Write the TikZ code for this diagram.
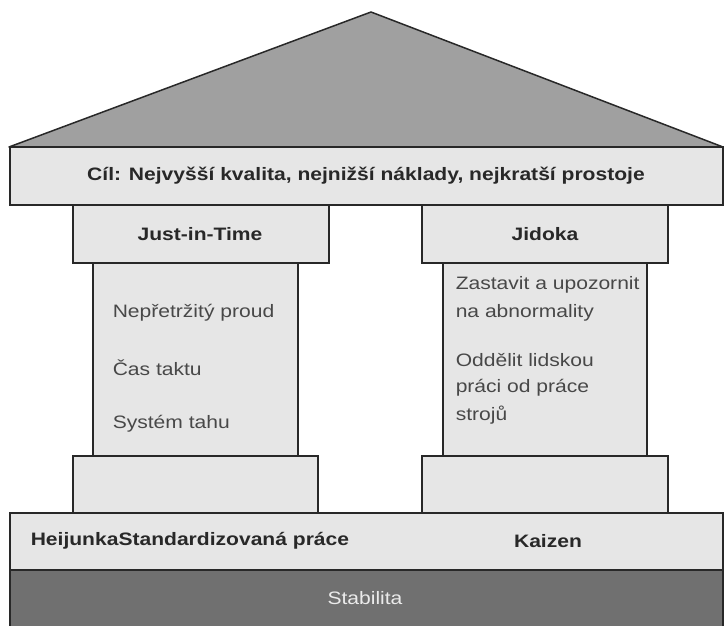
\documentclass[tikz,border=0pt]{standalone}
\usepackage{fontspec}
\setmainfont[FakeStretch=1.17]{Liberation Sans}
\usepackage{tikz}
\definecolor{roofgray}{RGB}{160,160,160}
\definecolor{bandgray}{RGB}{230,230,230}
\definecolor{basegray}{RGB}{112,112,112}
\definecolor{inkgray}{RGB}{40,40,40}

\begin{document}
\begin{tikzpicture}[x=1pt,y=-1pt,line width=1.5pt,
  every node/.style={inner sep=0pt,text=inkgray},
  band/.style={draw=inkgray,fill=bandgray},
  head/.style={font=\bfseries\fontsize{18}{21}\selectfont},
  item/.style={font=\fontsize{18}{21}\selectfont,anchor=west,text=inkgray!85}]
\useasboundingbox (0,0) rectangle (724,626);
% roof
\draw[draw=inkgray,fill=roofgray,line join=round] (9,147)--(371,12)--(723,147)--cycle;
\draw[band] (10,147) rectangle (723,205);
\node[head] (goal) at (366,176){Cíl: Nejvyšší kvalita, nejnižší náklady, nejkratší prostoje};
% left pillar
\draw[band] (73,205) rectangle (329,263);
\draw[band] (93,263) rectangle (298,456);
\draw[band] (73,456) rectangle (318,513);
\node[head] (jit) at (200,234){Just-in-Time};
\node[item] (flow) at (112,313){Nepřetržitý proud};
\node[item] (takt) at (112,368){Čas taktu};
\node[item] (pull) at (112,424){Systém tahu};
% right pillar
\draw[band] (422,205) rectangle (668,263);
\draw[band] (443,263) rectangle (647,456);
\draw[band] (422,456) rectangle (668,513);
\node[head] (jidoka) at (545,234){Jidoka};
\node[item] (stop1) at (455,285){Zastavit a upozornit};
\node[item] (stop2) at (455,313){na abnormality};
\node[item] (sep1) at (455,360){Oddělit lidskou};
\node[item] (sep2) at (455,388){práci od práce};
\node[item] (sep3) at (455,415){strojů};
% foundation
\draw[band] (10,513) rectangle (723,570);
\node[head,anchor=west] (std) at (30,541){HeijunkaStandardizovaná práce};
\node[head] (kaizen) at (548,541){Kaizen};
\draw[draw=inkgray,fill=basegray] (10,570) rectangle (723,630);
\node[font=\fontsize{18}{21}\selectfont,text=white!92!black] (stab) at (365,598){Stabilita};
\end{tikzpicture}
\end{document}
